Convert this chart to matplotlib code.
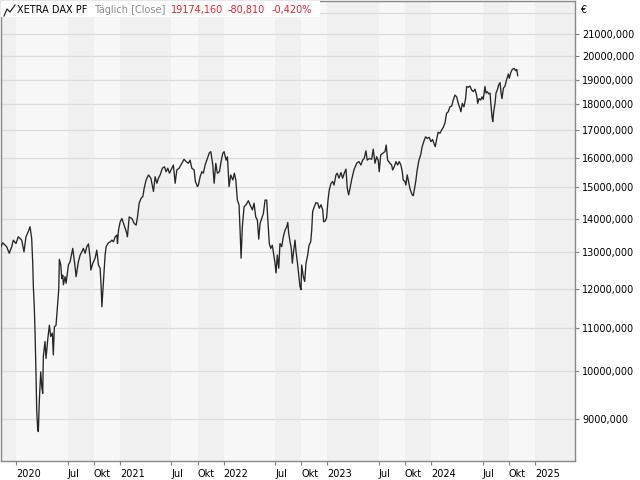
import numpy as np
import pandas as pd
import matplotlib
matplotlib.use("Agg")
import matplotlib.pyplot as plt
from matplotlib.lines import Line2D
from matplotlib.patches import Rectangle
from matplotlib.ticker import FixedLocator, FuncFormatter, NullLocator

# XETRA DAX PF, close in points, position as decimal year
years = [
    2019.855, 2019.872, 2019.910, 2019.935, 2019.959, 2019.974, 2020.000, 2020.022,
    2020.055, 2020.077, 2020.096, 2020.118, 2020.135, 2020.151, 2020.161, 2020.167,
    2020.176, 2020.183, 2020.193, 2020.199, 2020.209, 2020.215, 2020.224, 2020.238,
    2020.248, 2020.257, 2020.263, 2020.279, 2020.289, 2020.305, 2020.321, 2020.334,
    2020.350, 2020.359, 2020.369, 2020.385, 2020.398, 2020.411, 2020.417, 2020.431,
    2020.440, 2020.450, 2020.456, 2020.472, 2020.482, 2020.504, 2020.520, 2020.546,
    2020.568, 2020.578, 2020.600, 2020.617, 2020.633, 2020.648, 2020.665, 2020.681,
    2020.697, 2020.713, 2020.720, 2020.739, 2020.761, 2020.777, 2020.793, 2020.809,
    2020.819, 2020.826, 2020.835, 2020.848, 2020.857, 2020.867, 2020.889, 2020.906,
    2020.922, 2020.937, 2020.954, 2020.970, 2020.976, 2020.986, 2021.002, 2021.018,
    2021.040, 2021.066, 2021.072, 2021.089, 2021.115, 2021.137, 2021.156, 2021.169,
    2021.185, 2021.204, 2021.221, 2021.233, 2021.252, 2021.275, 2021.298, 2021.323,
    2021.339, 2021.356, 2021.371, 2021.387, 2021.409, 2021.429, 2021.445, 2021.461,
    2021.477, 2021.500, 2021.515, 2021.532, 2021.548, 2021.570, 2021.596, 2021.618,
    2021.638, 2021.660, 2021.676, 2021.693, 2021.715, 2021.727, 2021.747, 2021.756,
    2021.773, 2021.789, 2021.804, 2021.821, 2021.843, 2021.862, 2021.876, 2021.895,
    2021.908, 2021.924, 2021.939, 2021.959, 2021.972, 2021.991, 2022.004, 2022.023,
    2022.036, 2022.052, 2022.068, 2022.088, 2022.103, 2022.117, 2022.132, 2022.148,
    2022.158, 2022.168, 2022.180, 2022.197, 2022.216, 2022.238, 2022.254, 2022.277,
    2022.293, 2022.309, 2022.325, 2022.338, 2022.351, 2022.367, 2022.383, 2022.399,
    2022.415, 2022.425, 2022.440, 2022.454, 2022.469, 2022.483, 2022.495, 2022.505,
    2022.517, 2022.531, 2022.543, 2022.560, 2022.575, 2022.592, 2022.608, 2022.618,
    2022.627, 2022.640, 2022.652, 2022.662, 2022.672, 2022.688, 2022.698, 2022.710,
    2022.724, 2022.736, 2022.746, 2022.752, 2022.768, 2022.781, 2022.794, 2022.810,
    2022.823, 2022.839, 2022.849, 2022.858, 2022.874, 2022.890, 2022.907, 2022.922,
    2022.938, 2022.955, 2022.964, 2022.980, 2022.993, 2023.006, 2023.018, 2023.035,
    2023.051, 2023.064, 2023.083, 2023.095, 2023.112, 2023.131, 2023.147, 2023.163,
    2023.179, 2023.192, 2023.205, 2023.218, 2023.234, 2023.256, 2023.282, 2023.304,
    2023.324, 2023.340, 2023.355, 2023.372, 2023.384, 2023.404, 2023.427, 2023.442,
    2023.459, 2023.475, 2023.490, 2023.500, 2023.514, 2023.533, 2023.555, 2023.567,
    2023.581, 2023.603, 2023.620, 2023.629, 2023.645, 2023.661, 2023.677, 2023.693,
    2023.709, 2023.722, 2023.731, 2023.748, 2023.757, 2023.770, 2023.783, 2023.796,
    2023.805, 2023.818, 2023.828, 2023.841, 2023.854, 2023.866, 2023.883, 2023.899,
    2023.914, 2023.931, 2023.947, 2023.962, 2023.982, 2023.998, 2024.014, 2024.027,
    2024.040, 2024.053, 2024.068, 2024.085, 2024.101, 2024.117, 2024.133, 2024.149,
    2024.165, 2024.181, 2024.198, 2024.213, 2024.229, 2024.246, 2024.261, 2024.278,
    2024.287, 2024.300, 2024.316, 2024.332, 2024.342, 2024.357, 2024.374, 2024.390,
    2024.406, 2024.422, 2024.438, 2024.448, 2024.461, 2024.477, 2024.489, 2024.502,
    2024.518, 2024.528, 2024.541, 2024.554, 2024.567, 2024.576, 2024.586, 2024.593,
    2024.602, 2024.615, 2024.624, 2024.637, 2024.650, 2024.663, 2024.673, 2024.682,
    2024.695, 2024.711, 2024.727, 2024.743, 2024.752, 2024.766, 2024.781, 2024.798,
    2024.814, 2024.824, 2024.833,
]
closes = [
    13160, 13270, 13160, 12970, 13160, 13350, 13250, 13450,
    13350, 13010, 13450, 13600, 13750, 13400, 12690, 12050,
    11530, 10920, 9890, 9190, 8790, 8760, 9360, 9990,
    9670, 9530, 10330, 10680, 10290, 10720, 11070, 10800,
    10880, 10370, 11030, 11070, 11530, 11970, 12800, 12640,
    12270, 12360, 12100, 12320, 12140, 12640, 12730, 13110,
    12590, 12320, 12730, 12920, 13010, 13110, 12970, 13160,
    13240, 12830, 12500, 12690, 12830, 13060, 12640, 12550,
    12050, 11530, 11930, 12500, 12920, 13160, 13270, 13300,
    13350, 13300, 13450, 13500, 13250, 13650, 13900, 14000,
    13800, 13550, 13450, 14050, 14000, 13850, 13800, 14050,
    14480, 14640, 14700, 14960, 15240, 15410, 15300, 14860,
    15350, 15130, 15300, 15410, 15640, 15690, 15520, 15640,
    15470, 15640, 15750, 15130, 15580, 15640, 15810, 15950,
    15870, 15810, 15920, 15640, 15580, 15190, 15020, 15070,
    15350, 15520, 15470, 15750, 15980, 16180, 16220, 15750,
    15130, 15810, 15470, 15520, 15810, 16160, 16220, 15920,
    16040, 15020, 15410, 15240, 15470, 15240, 14580, 14430,
    13650, 12830, 13750, 14370, 14430, 14560, 14430, 14270,
    14480, 14050, 13950, 13380, 13850, 14000, 14160, 14580,
    14580, 14000, 13250, 13110, 13200, 12920, 12690, 12420,
    12920, 12550, 13250, 13160, 13450, 13650, 13750, 13880,
    13550, 13300, 13110, 12690, 12970, 13350, 13010, 12730,
    12360, 12050, 11970, 12640, 12320, 12190, 12690, 12920,
    13200, 13300, 13650, 14220, 14370, 14500, 14480, 14320,
    14430, 14270, 13900, 13930, 14030, 14580, 14910, 15130,
    15190, 15070, 15410, 15470, 15300, 15490, 15300, 15470,
    15610, 14960, 14750, 14960, 15250, 15580, 15810, 15870,
    15750, 15920, 15980, 16250, 15920, 15980, 15950, 16310,
    15810, 16040, 15920, 15520, 16100, 16160, 16220, 16460,
    15920, 15810, 15750, 15580, 15690, 15870, 15750, 15870,
    15750, 15520, 15240, 15190, 15070, 15410, 15190, 14960,
    14860, 14750, 14720, 14960, 15240, 15580, 15920, 16100,
    16400, 16600, 16760, 16700, 16740, 16580, 16660, 16520,
    16400, 16660, 16930, 16890, 17010, 17110, 17270, 17650,
    17710, 17900, 17930, 18170, 18370, 18300, 18040, 17840,
    17710, 18040, 17900, 18230, 18720, 18690, 18740, 18580,
    18510, 18610, 18370, 18040, 18230, 18170, 18300, 18200,
    18720, 18450, 18510, 18420, 18450, 17970, 17520, 17330,
    17710, 18040, 18450, 18580, 18790, 18880, 18450, 18230,
    18650, 18740, 19020, 19240, 19060, 19300, 19440, 19480,
    19380, 19440, 19174.16,
]

title = "XETRA DAX PF"
period = "Täglich [Close]"
last_close = 19174.160
change_abs = -80.810
change_pct = -0.420

y_ticks = list(range(9000, 22000, 1000))
y_grid_extra = [22000]
tick_years = [2020, 2021, 2022, 2023, 2024]
month_names = {1: None, 7: "Jul", 10: "Okt"}


def to_date(y):
    yr = int(np.floor(y))
    start = pd.Timestamp(yr, 1, 1)
    n = (pd.Timestamp(yr + 1, 1, 1) - start).days
    return start + pd.Timedelta(days=(y - yr) * n)


def de_num(v, nd=3):
    return f"{v:.{nd}f}".replace(".", ",")


dates = [to_date(y) for y in years]

x_ticks, x_labels = [], []
for yr in tick_years:
    for m, name in month_names.items():
        x_ticks.append(pd.Timestamp(yr, m, 1))
        x_labels.append(str(yr) if name is None else name)
x_ticks.append(pd.Timestamp(2025, 1, 1))
x_labels.append("2025")

W, H = 640, 480
fig = plt.figure(figsize=(6.4, 4.8), dpi=100)
ax = fig.add_axes([1 / W, 19 / H, 574 / W, 460 / H])

x_lo, x_hi = to_date(2019.8555), to_date(2025.385)
ax.set_xlim(x_lo, x_hi)
ax.set_yscale("log")
ax.set_ylim(8211, 22597)

# alternating background bands between the date ticks
edges = [x_lo] + x_ticks + [x_hi]
for i in range(len(edges) - 1):
    ax.axvspan(edges[i], edges[i + 1], color="#f0f0f0" if i % 2 == 0 else "#f7f7f7",
               lw=0, zorder=0)

for v in y_ticks + y_grid_extra:
    ax.axhline(v, color="#dcdcdc", lw=0.9, zorder=1)

ax.plot(dates, closes, color="#262626", lw=0.95, zorder=3)

ax.yaxis.tick_right()
ax.yaxis.set_major_locator(FixedLocator(y_ticks))
ax.yaxis.set_minor_locator(NullLocator())
ax.yaxis.set_major_formatter(FuncFormatter(lambda v, p: de_num(v)))
ax.tick_params(axis="y", which="major", length=3, width=0.8, color="#808080",
               pad=2, labelsize=7, labelcolor="#000000")

ax.set_xticks(x_ticks)
ax.set_xticklabels(x_labels, ha="left")
ax.tick_params(axis="x", length=3, width=0.8, color="#808080", pad=2.5,
               labelsize=7, labelcolor="#000000")

for s in ax.spines.values():
    s.set_color("#888888")
    s.set_linewidth(1)

# header
fig.add_artist(Rectangle((1 / W, 1 - 17 / H), 319 / W, 16 / H, transform=fig.transFigure,
                         facecolor="white", edgecolor="none", zorder=2))
fig.add_artist(Line2D([4 / W, 7 / W, 10 / W, 15 / W],
                      [1 - 16 / H, 1 - 9 / H, 1 - 12 / H, 1 - 5 / H],
                      transform=fig.transFigure, color="#222222", lw=0.9, zorder=3))
ty = 1 - 10 / H
fig.text(17 / W, ty, title, fontsize=7, color="#000000", va="center", zorder=4)
fig.text(94 / W, ty, period, fontsize=7, color="#8a8a8a", va="center", zorder=4)
fig.text(171 / W, ty, de_num(last_close), fontsize=7, color="#e8202a", va="center", zorder=4)
fig.text(228 / W, ty, de_num(change_abs), fontsize=7, color="#e8202a", va="center", zorder=4)
fig.text(272 / W, ty, de_num(change_pct) + "%", fontsize=7, color="#e8202a", va="center", zorder=4)
fig.text(580 / W, 1 - 10 / H, "€", fontsize=7, color="#000000", va="center")

fig.savefig("out.png", dpi=100, facecolor="white")
